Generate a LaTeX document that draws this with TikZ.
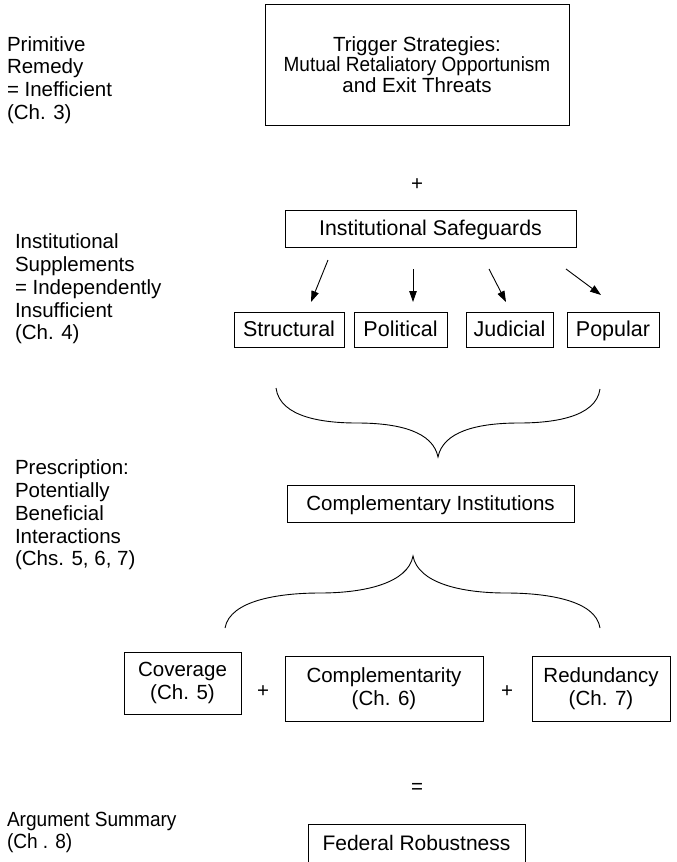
\documentclass[tikz,border=0pt]{standalone}
\usepackage{fontspec}
\usepackage{graphicx}
\setmainfont{Liberation Sans}
\usetikzlibrary{arrows.meta}
\begin{document}
\begin{tikzpicture}[x=1pt,y=-1pt,
  every node/.style={inner sep=0pt,outer sep=0pt,font=\fontsize{20.5pt}{22.7pt}\selectfont},
  bx/.style={draw,line width=0.9pt,align=center},
  one/.style={text height=14.7pt,text depth=0pt},
  lbl/.style={align=left,anchor=west},
  brc/.style={line width=0.9pt},
  arr/.style={line width=0.9pt,-{Triangle[length=11pt,width=7.5pt]}}]
\useasboundingbox (0,0) rectangle (677,862);
% left labels
\node[lbl] (l1) at (7,80) {Primitive\\Remedy\\= Inefficient\\(Ch. 3)};
\node[lbl] (l2) at (15,289) {Institutional\\Supplements\\= Independently\\Insufficient\\(Ch. 4)};
\node[lbl] (l3) at (15,515) {Prescription:\\Potentially\\Beneficial\\Interactions\\(Chs. 5, 6, 7)};
\node[lbl] (l4) at (7,832.5) {\scalebox{0.93}[1]{Argument Summary}\\\scalebox{0.93}[1]{(Ch . 8)}};
% boxes
\node[bx,minimum width=304,minimum height=121,font=\fontsize{20.5pt}{20.7pt}\selectfont] (trig) at (417,64.5) {Trigger Strategies:\\\scalebox{0.925}[1]{Mutual Retaliatory Opportunism}\\and Exit Threats};
\node (plus1) at (417,185) {+};
\node[bx,one,minimum width=291,minimum height=37,font=\fontsize{21.3pt}{23pt}\selectfont] (safe) at (430.5,228.5) {Institutional Safeguards};
\begin{scope}[every node/.append style={font=\fontsize{21.5pt}{23pt}\selectfont}]
\node[bx,one,minimum width=110,minimum height=35] (str) at (289,329.5) {Structural};
\node[bx,one,minimum width=93,minimum height=35] (pol) at (400.5,329.5) {Political};
\node[bx,one,minimum width=87,minimum height=35] (jud) at (509.5,329.5) {Judicial};
\node[bx,one,minimum width=92,minimum height=35] (pop) at (613,329.5) {Popular};
\end{scope}
\node[bx,one,minimum width=287,minimum height=37] (comp) at (430.5,503.5) {Complementary Institutions};
\node[bx,minimum width=117,minimum height=62] (cov) at (182.5,683) {Coverage\\(Ch. 5)};
\node (plus2) at (263,692) {+};
\node[bx,minimum width=198,minimum height=65] (cmpl) at (384,688.5) {Complementarity\\(Ch. 6)};
\node (plus3) at (507,692) {+};
\node[bx,minimum width=138,minimum height=65] (red) at (601,688.5) {Redundancy\\(Ch. 7)};
\node (eq) at (417,788) {=};
\node[bx,one,minimum width=217,minimum height=38,font=\fontsize{21pt}{23pt}\selectfont] (fed) at (416.5,843) {Federal Robustness};
% arrows
\coordinate (a1s) at (328,260); \coordinate (a1e) at (311,302);
\coordinate (a2s) at (413,269); \coordinate (a2e) at (413,302);
\coordinate (a3s) at (489,269); \coordinate (a3e) at (506,302);
\coordinate (a4s) at (566,269); \coordinate (a4e) at (601,295);
\draw[arr] (a1s) -- (a1e);
\draw[arr] (a2s) -- (a2e);
\draw[arr] (a3s) -- (a3e);
\draw[arr] (a4s) -- (a4e);
% brace 1 (downward)
\coordinate (b1l) at (276,388); \coordinate (b1t) at (438,457); \coordinate (b1r) at (600,389);
\draw[brc] (b1l) .. controls (280,418) and (325,423) .. (357,423)
  .. controls (400,423) and (433,432) .. (b1t)
  .. controls (443,432) and (476,423) .. (519,423)
  .. controls (551,423) and (596,418) .. (b1r);
% brace 2 (upward)
\coordinate (b2l) at (225,628); \coordinate (b2t) at (413,556); \coordinate (b2r) at (600,628);
\draw[brc] (b2l) .. controls (230,600) and (280,593) .. (320,593)
  .. controls (365,593) and (408,583) .. (b2t)
  .. controls (418,583) and (461,593) .. (506,593)
  .. controls (546,593) and (596,600) .. (b2r);
\end{tikzpicture}
\end{document}
